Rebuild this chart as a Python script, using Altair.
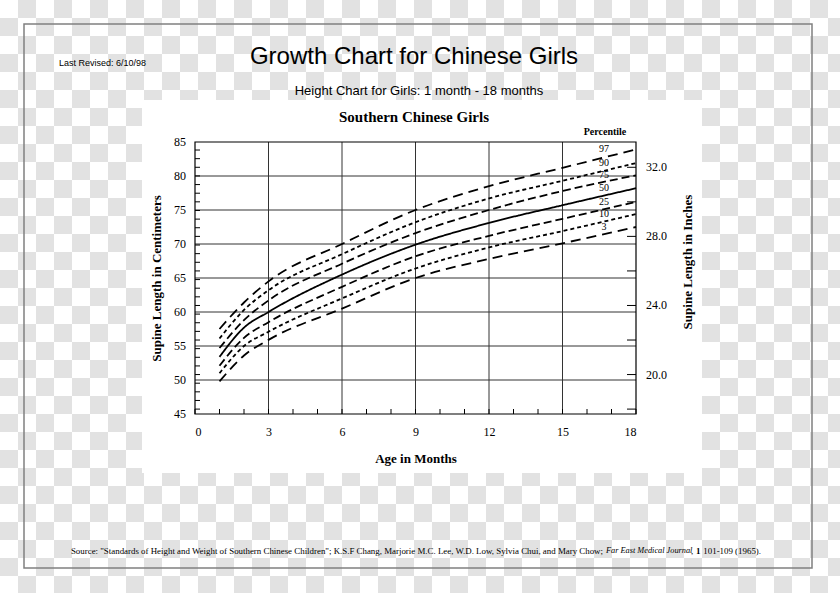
import altair as alt
import pandas as pd

# ---------------- data ----------------
months = [1, 2, 3, 6, 9, 12, 15, 18]
p97 = [57.5, 61.4, 64.5, 70.0, 75.0, 78.5, 81.2, 83.9]
p90 = [56.1, 60.3, 63.2, 68.5, 73.2, 76.7, 79.3, 81.9]
p75 = [54.7, 58.8, 61.7, 67.1, 71.6, 75.0, 77.8, 80.1]
p50 = [53.4, 57.7, 60.0, 65.5, 69.9, 73.1, 75.7, 78.2]
p25 = [52.1, 56.2, 58.5, 63.7, 68.2, 71.2, 73.7, 76.2]
p10 = [51.0, 55.0, 57.1, 62.0, 66.4, 69.5, 71.9, 74.4]
p3 = [49.8, 53.6, 55.9, 60.5, 65.0, 67.8, 70.1, 72.5]
percentiles = ["97", "90", "75", "50", "25", "10", "3"]
series = [p97, p90, p75, p50, p25, p10, p3]

x_labels = [0, 3, 6, 9, 12, 15, 18]
x_grid = [3, 6, 9, 12, 15]
month_ticks = list(range(19))
cm_labels = [45, 50, 55, 60, 65, 70, 75, 80, 85]
cm_grid = [50, 55, 60, 65, 70, 75, 80]
inch_minor = [18 + 0.5 * k for k in range(31)]
inch_ticks = [18, 20, 22, 24, 26, 28, 30, 32]
inch_labels = [20, 24, 28, 32]

# ---------------- layout (pixels) ----------------
W, H = 441, 272
OX, OY = 195, 142
X0, X1, Y0, Y1 = 0, 18, 45, 85
SERIF = "Liberation Serif"
SANS = "Liberation Sans"

rows = []
for p, vals in zip(percentiles, series):
    for m, v in zip(months, vals):
        rows.append({"pct": p, "month": m, "cm": v})
curves_df = pd.DataFrame(rows)
ends_df = curves_df[curves_df["month"] == 18].copy()

xs = alt.Scale(domain=[X0, X1], nice=False, zero=False)
ys = alt.Scale(domain=[Y0, Y1], nice=False, zero=False)

one = pd.DataFrame({"t": ["x"]})

# checkerboard background (transparency pattern), cells of 18 px, placed in pixels
cells = pd.DataFrame(
    [{"cx": c * 18 - OX, "cy": r * 18 - OY}
     for r in range(33) for c in range(47) if (c + r) % 2 == 1]
)
checker = alt.Chart(cells).mark_rect(fill="#e2e2e2", stroke=None, opacity=1).encode(
    x=alt.X("cx:Q", scale=None, axis=None),
    x2=alt.X2Value(alt.ExprRef(expr="datum.cx + 18")),
    y=alt.Y("cy:Q", scale=None, axis=None),
    y2=alt.Y2Value(alt.ExprRef(expr="datum.cy + 18")),
)

white_box = alt.Chart(one).mark_rect(color="white").encode(
    x=alt.value(142 - OX), x2=alt.value(702 - OX),
    y=alt.value(100 - OY), y2=alt.value(473 - OY),
)

frame = alt.Chart(one).mark_rect(fillOpacity=0, stroke="#808080", strokeWidth=1.5).encode(
    x=alt.value(24 - OX), x2=alt.value(812 - OX),
    y=alt.value(24 - OY), y2=alt.value(568 - OY),
)

vgrid = alt.Chart(pd.DataFrame({"m": x_grid})).mark_rule(color="#333333", strokeWidth=1).encode(
    x=alt.X("m:Q", scale=xs), y=alt.value(0), y2=alt.value(H)
)
hgrid = alt.Chart(pd.DataFrame({"c": cm_grid})).mark_rule(color="#333333", strokeWidth=1).encode(
    y=alt.Y("c:Q", scale=ys), x=alt.value(0), x2=alt.value(W)
)
border = alt.Chart(one).mark_rect(fillOpacity=0, stroke="black", strokeWidth=1.2).encode(
    x=alt.value(0), x2=alt.value(W), y=alt.value(0), y2=alt.value(H)
)

# axes (titles + x labels) carried by the curve layer
curves = alt.Chart(curves_df).mark_line(color="black", interpolate="monotone").encode(
    x=alt.X("month:Q", scale=xs, axis=alt.Axis(
        values=x_labels, title="Age in Months", grid=False, ticks=False, domain=False,
        labelPadding=12, titlePadding=15, zindex=2, labelOverlap=False)),
    y=alt.Y("cm:Q", scale=ys, axis=alt.Axis(
        values=cm_labels, title="Supine Length in Centimeters", grid=False, ticks=False,
        domain=False, labels=False, titlePadding=32, zindex=2)),
    strokeDash=alt.StrokeDash("pct:N", scale=alt.Scale(
        domain=percentiles,
        range=[[10, 6], [4, 3], [8, 4], [1, 0], [8, 4], [4, 3], [10, 6]]), legend=None),
    strokeWidth=alt.StrokeWidth("pct:N", scale=alt.Scale(
        domain=percentiles, range=[1.8, 1.8, 1.8, 2.0, 1.8, 1.8, 1.8]), legend=None),
)

left_labels = alt.Chart(pd.DataFrame({"c": cm_labels})).mark_text(
    font=SERIF, fontSize=12, align="right", baseline="middle", color="black"
).encode(y=alt.Y("c:Q", scale=ys), x=alt.value(-9), text="c:Q")

bottom_ticks = alt.Chart(pd.DataFrame({"m": month_ticks})).mark_rule(color="black").encode(
    x=alt.X("m:Q", scale=xs), y=alt.value(H), y2=alt.value(H - 5)
)
left_ticks = (
    alt.Chart(pd.DataFrame({"inch": inch_minor}))
    .transform_calculate(cm="datum.inch * 2.54")
    .transform_filter(f"datum.cm > {Y0} && datum.cm < {Y1}")
    .mark_rule(color="black")
    .encode(y=alt.Y("cm:Q", scale=ys), x=alt.value(0), x2=alt.value(5))
)
right_ticks = (
    alt.Chart(pd.DataFrame({"inch": inch_ticks}))
    .transform_calculate(cm="datum.inch * 2.54")
    .mark_rule(color="black")
    .encode(y=alt.Y("cm:Q", scale=ys), x=alt.value(W), x2=alt.value(W - 9))
)
right_labels = (
    alt.Chart(pd.DataFrame({"inch": inch_labels}))
    .transform_calculate(cm="datum.inch * 2.54", lab="format(datum.inch, '.1f')")
    .mark_text(font=SERIF, fontSize=12, align="left", baseline="middle", color="black")
    .encode(y=alt.Y("cm:Q", scale=ys), x=alt.value(W + 10), text="lab:N")
)
pct_labels = alt.Chart(ends_df).mark_text(
    font=SERIF, fontSize=10, align="center", baseline="middle", color="black"
).encode(x=alt.value(604 - OX), y=alt.Y("cm:Q", scale=ys), text="pct:N")


def label(text, x, y, size, font, weight="normal", style="normal", align="center", angle=0):
    return alt.Chart(pd.DataFrame({"t": [text]})).mark_text(
        font=font, fontSize=size, fontWeight=weight, fontStyle=style, align=align,
        baseline="middle", angle=angle, color="black",
    ).encode(x=alt.value(x - OX), y=alt.value(y - OY), text="t:N")


texts = [
    label("Growth Chart for Chinese Girls", 414, 57, 24, SANS),
    label("Height Chart for Girls: 1 month - 18 months", 419, 91, 13, SANS),
    label("Last Revised: 6/10/98", 59, 63, 9, SANS, align="left"),
    label("Southern Chinese Girls", 414, 117, 15, SERIF, weight="bold"),
    label("Percentile", 605, 132, 10, SERIF, weight="bold"),
    label("Supine Length in Inches", 688, 262, 13, SERIF, weight="bold", angle=270),
    label("Source: \"Standards of Height and Weight of Southern Chinese Children\"; K.S.F Chang, "
          "Marjorie M.C. Lee, W.D. Low, Sylvia Chui, and Mary Chow;", 603, 551, 8.9, SERIF, align="right"),
    label("Far East Medical Journal", 606, 551, 8.3, SERIF, style="italic", align="left"),
    label(",", 691, 551, 8.9, SERIF, align="left"),
    label("1", 696, 551, 8.9, SERIF, weight="bold", align="left"),
    label("101-109 (1965).", 761, 551, 8.9, SERIF, align="right"),
]

chart = alt.layer(
    checker, white_box, frame, vgrid, hgrid, border, curves, left_labels, bottom_ticks,
    left_ticks, right_ticks, right_labels, pct_labels, *texts
).properties(
    width=W, height=H,
    padding={"left": OX, "top": OY, "right": 840 - OX - W, "bottom": 593 - OY - H},
    autosize=alt.AutoSizeParams(type="none"),
    background="white",
).configure_view(
    stroke=None
).configure_axis(
    labelFont=SERIF, labelFontSize=12, labelColor="black",
    titleFont=SERIF, titleFontSize=13, titleFontWeight="bold", titleColor="black",
)

chart.save("out.html", embed_options={"renderer": "svg", "actions": False})
